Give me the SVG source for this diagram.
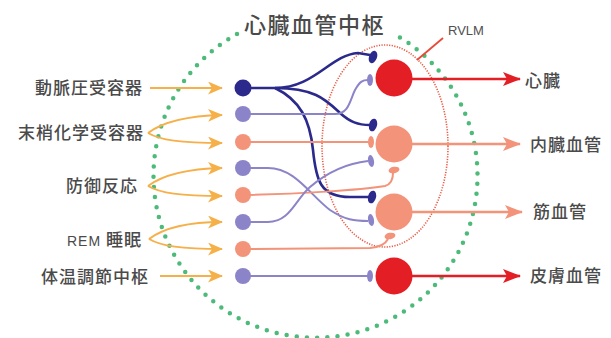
<svg xmlns="http://www.w3.org/2000/svg" width="611" height="338" viewBox="0 0 611 338">
<style>
.lbl{font-family:"Noto Sans CJK JP","Noto Sans",sans-serif;font-size:17px;letter-spacing:1px;fill:#4a4a4a;font-weight:500}
.ttl{font-family:"Noto Sans CJK JP","Noto Sans",sans-serif;font-size:22px;letter-spacing:1.5px;fill:#4a4a4a;font-weight:500}
.lat{font-family:"Liberation Sans","Noto Sans",sans-serif;fill:#505050}
.in{fill:none;stroke:#f6b04a;stroke-width:2}
.dk{fill:none;stroke:#2b2a8c;stroke-width:2.6}
.lv{fill:none;stroke:#8c84c8;stroke-width:2}
.sa{fill:none;stroke:#f2937a;stroke-width:2}
.red{fill:#e31e24}
.sal{fill:#f2937a}
.nvy{fill:#2b2a8c}
.lav{fill:#8c84c8}
</style>
<defs>
<marker id="ao" markerWidth="15" markerHeight="13" refX="14" refY="6.5" orient="auto" markerUnits="userSpaceOnUse"><path d="M0,0 L15,6.5 L0,13 L4,6.5 Z" fill="#f6b04a"/></marker>
<marker id="ar" markerWidth="18" markerHeight="14" refX="17" refY="7" orient="auto" markerUnits="userSpaceOnUse"><path d="M0,0 L18,7 L0,14 L4,7 Z" fill="#e31e24"/></marker>
<marker id="as" markerWidth="18" markerHeight="14" refX="17" refY="7" orient="auto" markerUnits="userSpaceOnUse"><path d="M0,0 L18,7 L0,14 L4,7 Z" fill="#f2937a"/></marker>
</defs>

<!-- boundaries -->
<path id="center-boundary" d="M 237 34 A 162 162 0 1 0 394 34" fill="none" stroke="#4cbb7a" stroke-width="4.5" stroke-linecap="round" stroke-dasharray="0 10.2"/>
<ellipse id="rvlm-boundary" cx="385" cy="146" rx="63" ry="101" fill="none" stroke="#ea5a44" stroke-width="1.6" stroke-dasharray="1.2 1.4"/>
<line x1="417" y1="60" x2="443" y2="38" stroke="#e84a3a" stroke-width="1.8"/>
<text class="ttl" x="244" y="33">心臓血管中枢</text>
<text class="lat" x="448" y="35" font-size="13">RVLM</text>

<!-- input labels -->
<g id="in-baro"><text class="lbl" x="143" y="94" text-anchor="end">動脈圧受容器</text></g>
<g id="in-chemo"><text class="lbl" x="144" y="139" text-anchor="end">末梢化学受容器</text></g>
<g id="in-defense"><text class="lbl" x="138" y="192" text-anchor="end">防御反応</text></g>
<g id="in-rem"><text class="lbl" x="142" y="246" text-anchor="end"><tspan font-family="Liberation Sans, sans-serif" font-size="14" font-weight="normal">REM </tspan>睡眠</text></g>
<g id="in-thermo"><text class="lbl" x="149" y="283" text-anchor="end">体温調節中枢</text></g>

<!-- output labels -->
<g id="out-heart"><text class="lbl" x="525" y="87">心臓</text></g>
<g id="out-visceral"><text class="lbl" x="530" y="151">内臓血管</text></g>
<g id="out-muscle"><text class="lbl" x="533" y="218">筋血管</text></g>
<g id="out-skin"><text class="lbl" x="530" y="282">皮膚血管</text></g>

<!-- connectors -->
<g id="connectors">
  <!-- inputs -->
  <path class="in" d="M150 88 L222 88" marker-end="url(#ao)"/>
  <path class="in" d="M148 133 C160 124, 180 116, 222 115" marker-end="url(#ao)"/>
  <path class="in" d="M148 133 C160 140, 180 143, 222 143" marker-end="url(#ao)"/>
  <path class="in" d="M148 186 C160 177, 180 169, 222 168" marker-end="url(#ao)"/>
  <path class="in" d="M148 186 C160 193, 180 196, 222 196" marker-end="url(#ao)"/>
  <path class="in" d="M149 239 C161 230, 181 222, 222 222" marker-end="url(#ao)"/>
  <path class="in" d="M149 239 C161 246, 181 249, 222 249" marker-end="url(#ao)"/>
  <path class="in" d="M160 276 L222 276" marker-end="url(#ao)"/>

  <!-- internal -->
  <path class="dk" d="M243 88 L275 88 C315 88, 330 55, 358 53 L370 55"/>
  <path class="dk" d="M275 88 C315 88, 326 100, 340 113 C350 122, 358 125, 370 125"/>
  <path class="dk" d="M275 88 C300 100, 310 120, 313 150 C316 180, 320 197, 350 197 L370 197"/>
  <path class="lv" d="M243 114 L335 114 C349 114, 350 100, 355 90 C360 81, 363 80, 368 80"/>
  <path class="sa" d="M243 142 L368 142"/>
  <path class="lv" d="M243 168 L268 168 C295 168, 310 195, 330 210 C345 220, 355 221, 368 221"/>
  <path class="sa" d="M243 195 C300 194, 360 190, 385 186 C392 184, 393 178, 393 173"/>
  <path class="lv" d="M243 222 L268 222 C290 222, 295 200, 310 187 C330 170, 350 163, 368 161"/>
  <path class="sa" d="M243 249 L370 248 C381 247, 386 243, 388 239"/>
  <path class="lv" d="M243 276 L368 276"/>

  <!-- synaptic terminals -->
  <ellipse class="nvy" cx="373" cy="57" rx="4" ry="6.5" transform="rotate(20 373 57)"/>
  <ellipse class="lav" cx="370" cy="80" rx="3" ry="6"/>
  <ellipse class="nvy" cx="373" cy="125" rx="4" ry="6.5" transform="rotate(15 373 125)"/>
  <ellipse class="sal" cx="371" cy="142" rx="3" ry="6"/>
  <ellipse class="lav" cx="371" cy="161" rx="3" ry="6" transform="rotate(-10 371 161)"/>
  <ellipse class="sal" cx="394" cy="170" rx="5.5" ry="3.2" transform="rotate(-10 394 170)"/>
  <ellipse class="nvy" cx="372" cy="197" rx="4" ry="6.5" transform="rotate(15 372 197)"/>
  <ellipse class="lav" cx="371" cy="220" rx="3" ry="6" transform="rotate(-10 371 220)"/>
  <ellipse class="sal" cx="390" cy="236" rx="5.5" ry="3.2" transform="rotate(-10 390 236)"/>
  <ellipse class="lav" cx="370" cy="276" rx="3" ry="6"/>

  <!-- outputs -->
  <path d="M412 79 L520 79" stroke="#e31e24" stroke-width="2.6" fill="none" marker-end="url(#ar)"/>
  <path d="M412 144 L520 144" stroke="#f2937a" stroke-width="2.6" fill="none" marker-end="url(#as)"/>
  <path d="M412 212 L522 212" stroke="#f2937a" stroke-width="2.6" fill="none" marker-end="url(#as)"/>
  <path d="M412 276 L520 276" stroke="#e31e24" stroke-width="2.6" fill="none" marker-end="url(#ar)"/>
</g>

<!-- input neurons -->
<g id="n1"><circle class="nvy" cx="243" cy="88" r="8.5"/></g>
<g id="n2"><circle class="lav" cx="243" cy="114" r="8"/></g>
<g id="n3"><circle class="sal" cx="243" cy="142" r="8"/></g>
<g id="n4"><circle class="lav" cx="243" cy="168" r="8"/></g>
<g id="n5"><circle class="sal" cx="243" cy="195" r="8"/></g>
<g id="n6"><circle class="lav" cx="243" cy="222" r="8"/></g>
<g id="n7"><circle class="sal" cx="243" cy="249" r="8"/></g>
<g id="n8"><circle class="lav" cx="243" cy="276" r="8"/></g>

<!-- output neurons -->
<g id="o1"><circle class="red" cx="394" cy="78" r="18.5"/></g>
<g id="o2"><circle class="sal" cx="394" cy="144" r="18.5"/></g>
<g id="o3"><circle class="sal" cx="394" cy="212" r="18.5"/></g>
<g id="o4"><circle class="red" cx="394" cy="276" r="18.5"/></g>
</svg>
